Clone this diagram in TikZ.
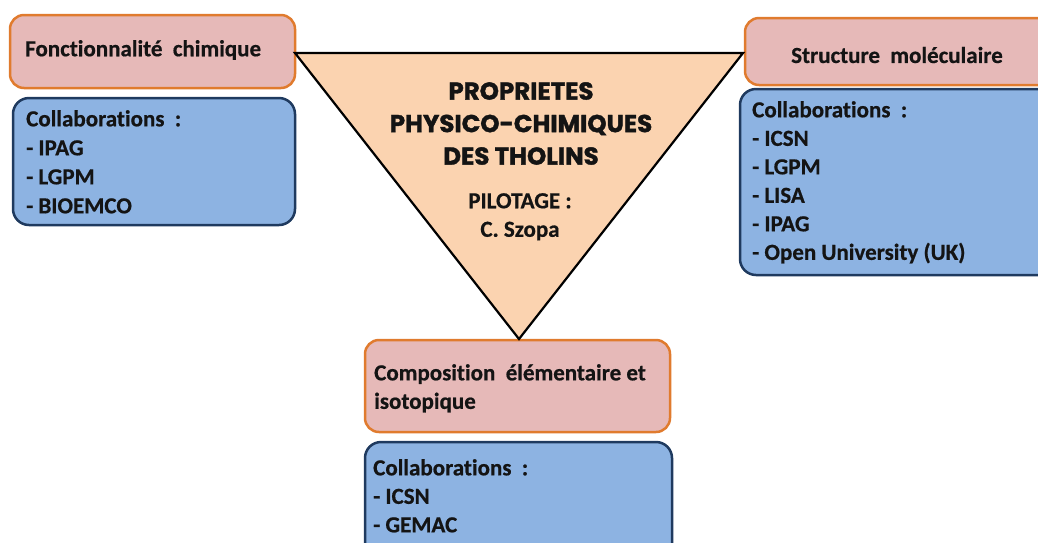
\documentclass[tikz,border=0pt]{standalone}
\usepackage{fontspec}
\setmainfont{Carlito}[Ligatures=NoCommon, BoldFeatures={FakeBold=0.6}]
\newfontfamily\titlefont{Poppins}[BoldFont={* Bold}, BoldFeatures={FakeBold=1.5}]
\definecolor{pinkfill}{HTML}{E6B9B8}
\definecolor{pinkdraw}{HTML}{E07B2E}
\definecolor{bluefill}{HTML}{8DB3E2}
\definecolor{bluedraw}{HTML}{1F3A5F}
\definecolor{peach}{HTML}{FBD3B0}
\definecolor{txt}{HTML}{141414}
\tikzset{
  pinkbox/.style={draw=pinkdraw, fill=pinkfill, line width=2.5pt, rounded corners=14pt},
  bluebox/.style={draw=bluedraw, fill=bluefill, line width=2.5pt, rounded corners=16pt},
  lbl/.style={font=\fontsize{23}{28.5}\selectfont\bfseries, text=txt, inner sep=0pt, align=left},
}
\begin{document}
\begin{tikzpicture}[x=1pt,y=-1pt]
\useasboundingbox (0,0) rectangle (1038,542);
% boxes
\draw[pinkbox] (10,15) rectangle (295,88);
\draw[bluebox] (13,98) rectangle (295,225);
\draw[pinkbox] (745,18) rectangle (1060,85);
\draw[bluebox] (740,89) rectangle (1060,275);
\draw[pinkbox] (365,340) rectangle (670,432);
\draw[bluebox] (365,442) rectangle (672,570);
% triangle
\coordinate (tl) at (295,53);
\coordinate (tr) at (743,53);
\coordinate (bt) at (519,339);
\draw[fill=peach, line width=2.2pt, line join=miter] (tl) -- (tr) -- (bt) -- cycle;
% texts
\node[lbl, anchor=west] (f1) at (25,50) {Fonctionnalit\'e\ \ chimique};
\node[lbl, anchor=north west, font=\fontsize{23}{29}\selectfont\bfseries] (c1) at (26,110) {Collaborations\ \ :\\- IPAG\\- LGPM\\- BIOEMCO};
\node[lbl, anchor=center] (f2) at (897,55) {Structure\ \ mol\'eculaire};
\node[lbl, anchor=north west] (c2) at (752,101) {Collaborations\ \ :\\- ICSN\\- LGPM\\- LISA\\- IPAG\\- Open University (UK)};
\node[lbl, anchor=north west] (f3) at (374,364) {Composition\ \ \'el\'ementaire et\\isotopique};
\node[lbl, anchor=north west] (c3) at (373,459) {Collaborations\ \ :\\- ICSN\\- GEMAC};
\node[font=\titlefont\fontsize{24.5}{32.5}\selectfont\bfseries, text=txt, inner sep=0pt, align=center, anchor=north] (t) at (521,82) {PROPRIETES\\PHYSICO-CHIMIQUES\\DES THOLINS};
\node[lbl, align=center, anchor=north] (p) at (520,193) {PILOTAGE :\\C. Szopa};
\end{tikzpicture}
\end{document}
